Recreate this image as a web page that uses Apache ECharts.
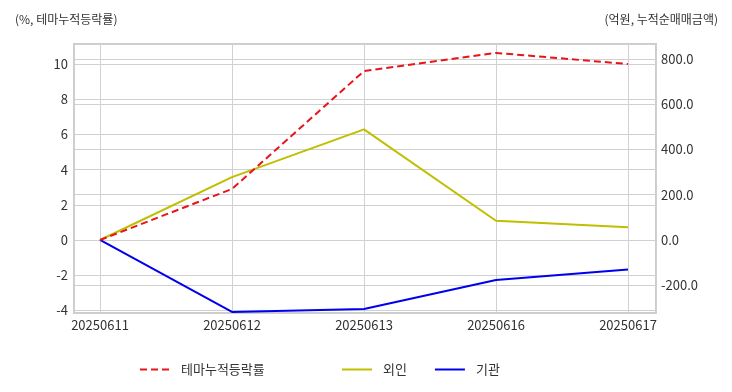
<!DOCTYPE html>
<html>
<head>
<meta charset="utf-8">
<script src="https://cdn.jsdelivr.net/npm/echarts@6/dist/echarts.min.js"></script>
<style>
html,body{margin:0;padding:0;background:#fff;}
#chart{width:732px;height:392px;}
</style>
</head>
<body>
<div id="chart"></div>
<script>
var categories = ['20250611', '20250612', '20250613', '20250616', '20250617'];
var themeReturn = [0, 2.9, 9.6, 10.63, 10.0];      // %, left axis
var foreignNet = [0, 278, 489, 85, 56];             // 억원, right axis
var institutionNet = [0, -318, -305, -177, -130];   // 억원, right axis
var leftTitle = '(%, 테마누적등락률)';
var rightTitle = '(억원, 누적순매매금액)';
var seriesNames = ['테마누적등락률', '외인', '기관'];

function pairs(vals) { return vals.map(function (v, i) { return [i, v]; }); }
function isMult(v, step) { return Math.abs(v / step - Math.round(v / step)) < 1e-6; }

var font = "'Noto Sans CJK KR', 'Noto Sans', sans-serif";
var textColor = '#333333';
var gridColor = '#d0d0d0';

var legendCommon = {
  top: 363, padding: 0, itemWidth: 30, itemHeight: 10, itemGap: 27,
  itemStyle: {opacity: 0},
  textStyle: {fontSize: 13, color: textColor, fontFamily: font, padding: [0, 0, 0, 6]}
};

var chart = echarts.init(document.getElementById('chart'), null, {renderer: 'canvas'});
chart.setOption({
  animation: false,
  backgroundColor: '#ffffff',
  textStyle: {fontFamily: font},
  title: [
    {text: leftTitle, left: 10, top: 8, textStyle: {fontSize: 12, fontWeight: 'normal', color: textColor, fontFamily: font}},
    {text: rightTitle, right: 9, top: 8, textStyle: {fontSize: 12, fontWeight: 'normal', color: textColor, fontFamily: font}}
  ],
  legend: [
    Object.assign({data: [seriesNames[0]], left: 139}, legendCommon),
    Object.assign({data: [seriesNames[1], seriesNames[2]], left: 341}, legendCommon)
  ],
  grid: {left: 74, right: 76, top: 44, bottom: 79, show: true, borderColor: '#cccccc', borderWidth: 2, containLabel: false},
  xAxis: {
    type: 'value', min: -26 / 132, max: 4 + 28 / 132, minInterval: 1, maxInterval: 1,
    axisLine: {show: false}, axisTick: {show: false},
    axisLabel: {
      margin: 6, fontSize: 13, color: textColor, fontFamily: font, showMinLabel: true, showMaxLabel: true,
      formatter: function (v) { return isMult(v, 1) && v >= 0 && v < categories.length ? categories[Math.round(v)] : ''; }
    },
    splitLine: {show: true, lineStyle: {color: gridColor, width: 1}}
  },
  yAxis: [
    {
      type: 'value', position: 'left', min: -4.148, max: 11.136, minInterval: 2, maxInterval: 2,
      axisLine: {show: false}, axisTick: {show: false},
      axisLabel: {margin: 6, fontSize: 13, color: textColor, fontFamily: font, verticalAlign: 'middle', lineHeight: 13,
        formatter: function (v) { return isMult(v, 2) ? String(Math.round(v)) : ''; }},
      splitLine: {show: true, lineStyle: {color: gridColor, width: 1}}
    },
    {
      type: 'value', position: 'right', min: -322.7, max: 866.3, minInterval: 200, maxInterval: 200,
      axisLine: {show: false}, axisTick: {show: false},
      axisLabel: {margin: 5, fontSize: 13, color: textColor, fontFamily: font,
        formatter: function (v) { return isMult(v, 200) ? (Math.round(v)).toFixed(1) : ''; }},
      splitLine: {show: true, lineStyle: {color: gridColor, width: 1}}
    }
  ],
  series: [
    {name: seriesNames[0], type: 'line', yAxisIndex: 0, data: pairs(themeReturn), symbol: 'none', clip: false,
     color: '#e8141a', lineStyle: {color: '#e8141a', width: 2, type: [7, 4]}, z: 5},
    {name: seriesNames[1], type: 'line', yAxisIndex: 1, data: pairs(foreignNet), symbol: 'none', clip: false,
     color: '#bfbf00', lineStyle: {color: '#bfbf00', width: 2}, z: 4},
    {name: seriesNames[2], type: 'line', yAxisIndex: 1, data: pairs(institutionNet), symbol: 'none', clip: false,
     color: '#0000ee', lineStyle: {color: '#0000ee', width: 2}, z: 4}
  ]
});
</script>
</body>
</html>
